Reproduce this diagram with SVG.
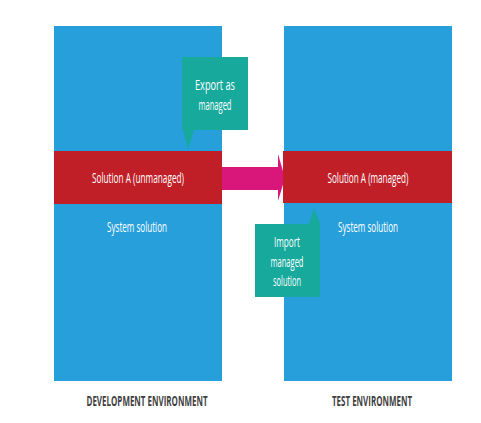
<svg xmlns="http://www.w3.org/2000/svg" width="481" height="423" viewBox="0 0 481 423">
<style>
.panel{fill:#279fda}
.band{fill:#c01f27}
.call{fill:#16a99c}
.w{fill:#ffffff;font-family:"Open Sans","Liberation Sans",sans-serif;font-size:14px;text-anchor:middle}
.lbl{fill:#3f3f3f;font-family:"Open Sans","Liberation Sans",sans-serif;font-size:15px;font-weight:bold;text-anchor:middle}
</style>
<rect width="481" height="423" fill="#ffffff"/>
<g id="dev-env">
<rect class="panel" x="54" y="26" width="168" height="355"/>
<text class="w" x="137" y="232" textLength="60" lengthAdjust="spacingAndGlyphs">System solution</text>
<text class="lbl" x="147" y="406" textLength="121" lengthAdjust="spacingAndGlyphs">DEVELOPMENT ENVIRONMENT</text>
</g>
<g id="test-env">
<rect class="panel" x="284" y="26" width="168" height="355"/>
<text class="w" x="368" y="232" textLength="60" lengthAdjust="spacingAndGlyphs">System solution</text>
<text class="lbl" x="372" y="406" textLength="80" lengthAdjust="spacingAndGlyphs">TEST ENVIRONMENT</text>
</g>
<g id="connectors">
<polygon fill="#d9177a" points="222,167 278,167 278,154 285,178 278,201 278,190 222,190"/>
</g>
<g id="solution-unmanaged">
<rect class="band" x="54" y="151" width="168" height="53"/>
<text class="w" x="138" y="183" textLength="92" lengthAdjust="spacingAndGlyphs">Solution A (unmanaged)</text>
</g>
<g id="solution-managed">
<rect class="band" x="283" y="151" width="169" height="52"/>
<text class="w" x="368" y="183" textLength="81" lengthAdjust="spacingAndGlyphs">Solution A (managed)</text>
</g>
<g id="export-callout">
<rect class="call" x="182" y="57" width="66" height="73"/>
<polygon class="call" points="183,130 194,130 188,149"/>
<text class="w" x="215" y="90" textLength="40" lengthAdjust="spacingAndGlyphs">Export as</text>
<text class="w" x="215" y="110" textLength="33" lengthAdjust="spacingAndGlyphs">managed</text>
</g>
<g id="import-callout">
<rect class="call" x="255" y="224" width="65" height="73"/>
<polygon class="call" points="309,224 320,224 314,208"/>
<text class="w" x="287" y="247" textLength="26" lengthAdjust="spacingAndGlyphs">Import</text>
<text class="w" x="287" y="267" textLength="33" lengthAdjust="spacingAndGlyphs">managed</text>
<text class="w" x="287" y="286" textLength="28" lengthAdjust="spacingAndGlyphs">solution</text>
</g>
</svg>
